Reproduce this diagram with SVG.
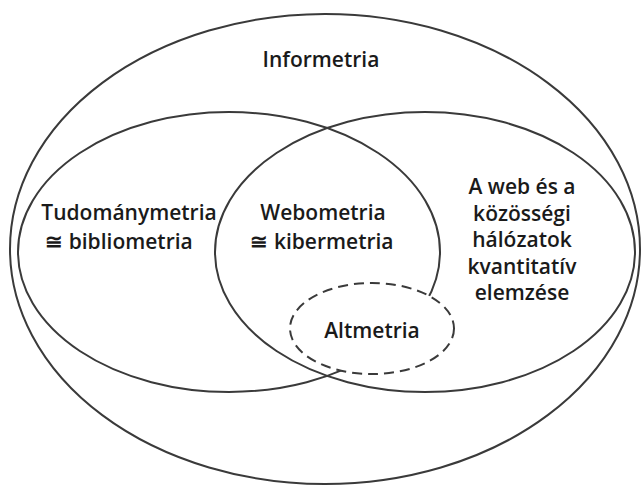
<svg xmlns="http://www.w3.org/2000/svg" width="643" height="487" viewBox="0 0 643 487">
<style>
.e{fill:none;stroke:#3a3a3a;stroke-width:2}
.d{fill:#fff;stroke:#3a3a3a;stroke-width:2;stroke-dasharray:10 6}
.t{font-family:"Open Sans","Noto Sans",sans-serif;font-weight:600;font-size:21px;fill:#1a1a1a;text-anchor:middle}
</style>
<rect width="643" height="487" fill="#fff"/>
<g id="informetria">
<ellipse class="e" cx="325" cy="249" rx="315" ry="235"/>
<text class="t" x="321" y="67">Informetria</text>
</g>
<g id="tudomanymetria">
<ellipse class="e" cx="229" cy="252" rx="211" ry="140"/>
<text class="t" x="129" y="220">Tudománymetria</text>
<text class="t" x="119" y="249">≅ bibliometria</text>
</g>
<g id="web">
<ellipse class="e" cx="425" cy="252" rx="210" ry="140"/>
<text class="t" x="522" y="194">A web és a</text>
<text class="t" x="522" y="221">közösségi</text>
<text class="t" x="522" y="247">hálózatok</text>
<text class="t" x="522" y="274">kvantitatív</text>
<text class="t" x="522" y="300">elemzése</text>
</g>
<g id="webometria">
<text class="t" x="323" y="220">Webometria</text>
<text class="t" x="322" y="249">≅ kibermetria</text>
</g>
<g id="altmetria">
<ellipse class="d" cx="372" cy="328.5" rx="82" ry="45.5"/>
<text class="t" x="372" y="338">Altmetria</text>
</g>
<g id="connectors"/>
</svg>
